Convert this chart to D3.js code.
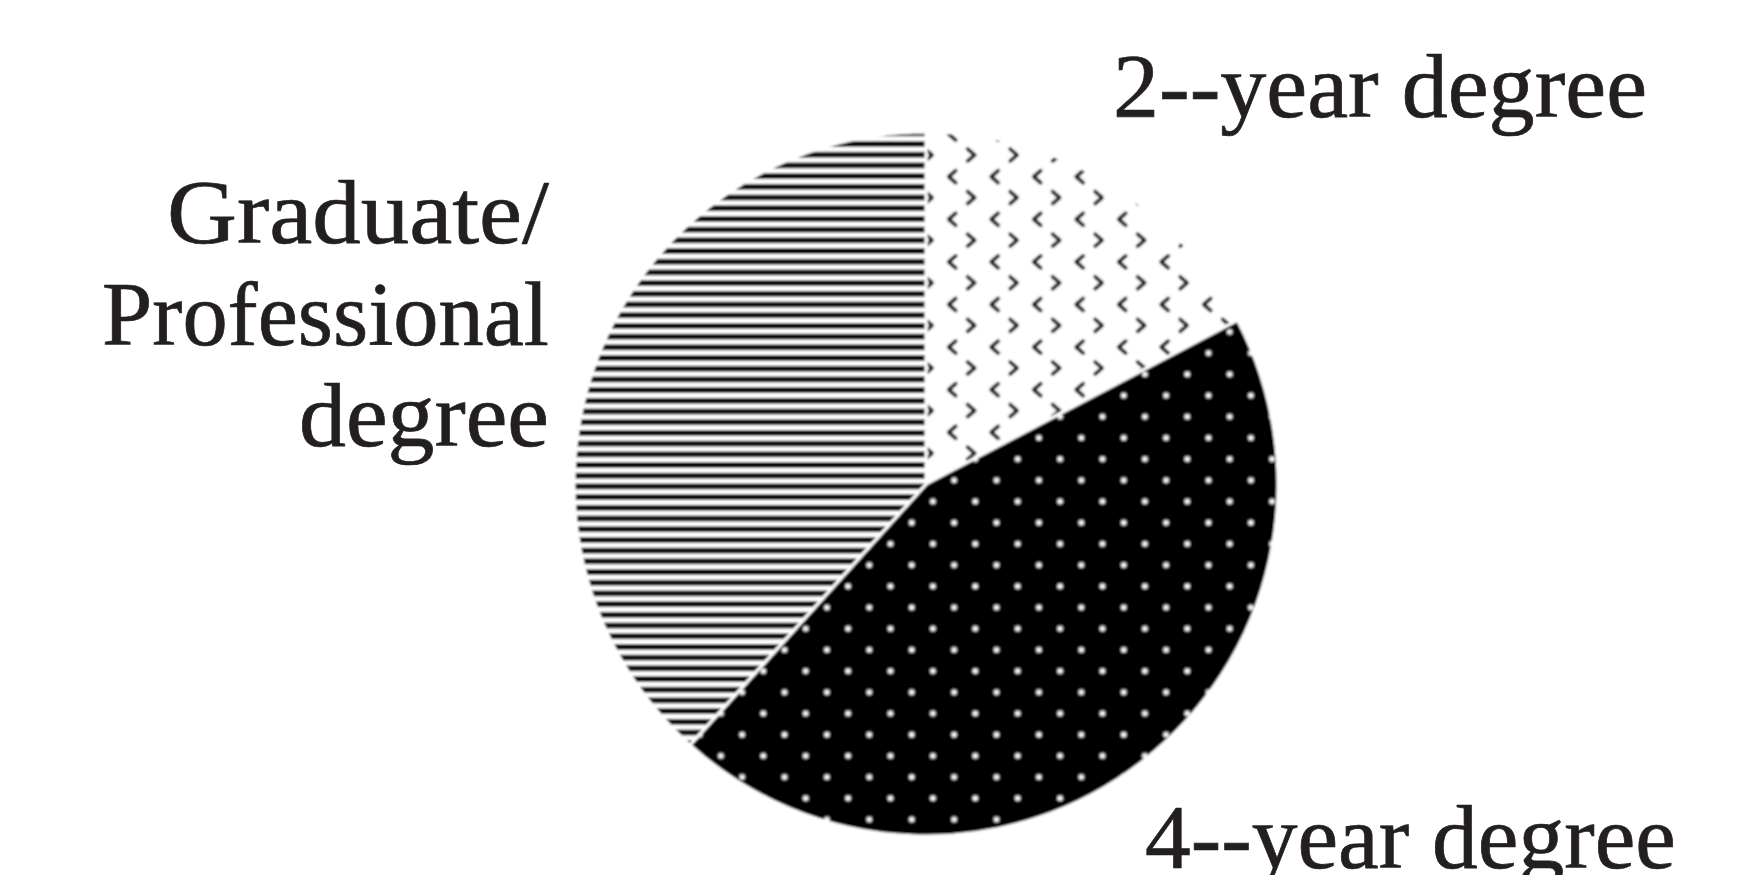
<!DOCTYPE html>
<html>
<head>
<meta charset="utf-8">
<script src="https://cdn.jsdelivr.net/npm/d3@7"></script>
<style>
  html, body { margin: 0; padding: 0; background: #ffffff; }
  svg { display: block; }
  text { font-family: "Liberation Serif", "Times New Roman", serif; fill: #231f20; stroke: #231f20; stroke-width: 0.7; }
</style>
</head>
<body>
<script>
// ---- data ----
const categories = ["2--year degree", "4--year degree", "Graduate/Professional degree"];
const values = [17.3, 44.4, 38.3];
const labelLines = [["2--year degree"], ["4--year degree"], ["Graduate/", "Professional", "degree"]];
const patternIds = ["chevrons", "dots", "stripes"];

const W = 1761, H = 875;
const cx = 926, cy = 484, R = 352;

const svg = d3.select("body").append("svg")
  .attr("width", W).attr("height", H);

svg.append("rect").attr("width", W).attr("height", H).attr("fill", "#fff");

const defs = svg.append("defs");

// soft edges like the scanned reference
defs.append("filter").attr("id", "soft")
  .attr("x", "-5%").attr("y", "-5%").attr("width", "110%").attr("height", "110%")
  .append("feGaussianBlur").attr("stdDeviation", 0.9);

// horizontal stripes (Graduate/Professional)
const sp = 10.7;
const stripes = defs.append("pattern").attr("id", "stripes")
  .attr("patternUnits", "userSpaceOnUse")
  .attr("x", 0).attr("y", -353.6).attr("width", 40).attr("height", sp);
stripes.append("rect").attr("width", 40).attr("height", sp).attr("fill", "#fff");
stripes.append("rect").attr("width", 40).attr("height", 5.8).attr("fill", "#0a0a0a");

// white dots on black (4-year)
const dp = 42.4;
const dots = defs.append("pattern").attr("id", "dots")
  .attr("patternUnits", "userSpaceOnUse")
  .attr("x", -14.3 - dp / 4).attr("y", 38.7 - dp / 4).attr("width", dp).attr("height", dp);
dots.append("rect").attr("width", dp).attr("height", dp).attr("fill", "#000");
[[dp / 4, dp / 4], [dp * 3 / 4, dp * 3 / 4]].forEach(([x, y]) => {
  dots.append("circle").attr("cx", x).attr("cy", y).attr("r", 3.4).attr("fill", "#888");
  dots.append("circle").attr("cx", x).attr("cy", y).attr("r", 2.3).attr("fill", "#fff");
});

// chevrons on white (2-year)
const cw = 42.5, ch = 42.6;
const chev = defs.append("pattern").attr("id", "chevrons")
  .attr("patternUnits", "userSpaceOnUse")
  .attr("x", 45.7 - 10).attr("y", -329 - 10).attr("width", cw).attr("height", ch);
chev.append("rect").attr("width", cw).attr("height", ch).attr("fill", "#fff");
chev.append("path").attr("d", "M6,4 L13,10 L6,16")
  .attr("fill", "none").attr("stroke", "#111").attr("stroke-width", 3.6)
  .attr("stroke-linecap", "round").attr("stroke-linejoin", "round");
chev.append("path").attr("d", "M36.5,25.7 L29.5,31.7 L36.5,37.7")
  .attr("fill", "none").attr("stroke", "#111").attr("stroke-width", 3.6)
  .attr("stroke-linecap", "round").attr("stroke-linejoin", "round");

// ---- pie ----
const pie = d3.pie().sort(null).value(d => d.v);
const arc = d3.arc().innerRadius(0).outerRadius(R);
const data = categories.map((c, i) => ({ c, v: values[i], p: patternIds[i] }));

const g = svg.append("g")
  .attr("transform", `translate(${cx},${cy})`)
  .attr("filter", "url(#soft)");

g.selectAll("path.slice")
  .data(pie(data))
  .join("path")
  .attr("class", "slice")
  .attr("d", arc)
  .attr("fill", d => `url(#${d.data.p})`)
  .attr("stroke", "#fff")
  .attr("stroke-width", 3)
  .attr("stroke-linejoin", "round");

// ---- labels ----
const fs = 90;
const labelPos = [
  { x: 1113, y: 117, anchor: "start", widths: [534] },
  { x: 1145, y: 868, anchor: "start", widths: [531] },
  { x: 549, y: 243, anchor: "end", widths: [382, 447, 250] }
];
const lineH = 101.5;

labelLines.forEach((lines, i) => {
  lines.forEach((ln, j) => {
    svg.append("text")
      .attr("x", labelPos[i].x)
      .attr("y", labelPos[i].y + j * lineH)
      .attr("text-anchor", labelPos[i].anchor)
      .attr("font-size", fs)
      .attr("textLength", labelPos[i].widths[j])
      .attr("lengthAdjust", "spacingAndGlyphs")
      .text(ln);
  });
});
</script>
</body>
</html>
